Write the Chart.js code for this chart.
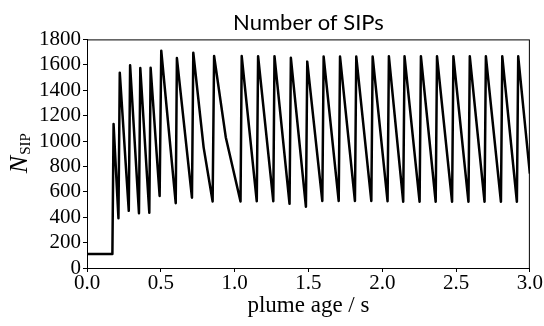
<!DOCTYPE html>
<html>
<head>
<meta charset="utf-8">
<script src="https://cdn.jsdelivr.net/npm/chart.js"></script>
<style>
  html, body { margin: 0; padding: 0; background: #fff; }
  #wrap { width: 544px; height: 326px; }
</style>
</head>
<body>
<div id="wrap"><canvas id="nsip"></canvas></div>
<script>
// plume age in s
var age = [0, 0.172, 0.18, 0.213, 0.222, 0.283, 0.292, 0.352, 0.361, 0.422, 0.431,
  0.492, 0.503, 0.601, 0.609, 0.711, 0.72, 0.79, 0.851, 0.861, 0.94, 1.04, 1.048,
  1.15, 1.159, 1.262, 1.27, 1.372, 1.381, 1.483, 1.492, 1.594, 1.603, 1.705, 1.714,
  1.815, 1.824, 1.926, 1.935, 2.036, 2.045, 2.142, 2.151, 2.253, 2.262, 2.362, 2.371,
  2.473, 2.482, 2.584, 2.593, 2.693, 2.702, 2.804, 2.813, 2.912, 2.921, 3.0];
// number of super-ice-particles
var nsip = [110, 110, 1133, 392, 1538, 450, 1596, 432, 1575, 435, 1577,
  567, 1711, 510, 1653, 554, 1695, 950, 523, 1669, 1030, 523, 1669,
  525, 1668, 525, 1668, 505, 1655, 482, 1625, 527, 1665, 527, 1665,
  527, 1665, 527, 1665, 525, 1667, 521, 1667, 521, 1667, 521, 1667,
  521, 1667, 521, 1667, 521, 1667, 521, 1667, 521, 1667, 744];
var xTicks = [0, 0.5, 1.0, 1.5, 2.0, 2.5, 3.0];
var yTicks = [0, 200, 400, 600, 800, 1000, 1200, 1400, 1600, 1800];

var serif = "'Liberation Serif', serif";

var pts = [];
for (let i = 0; i < age.length; i++) {
  pts.push({x: age[i], y: nsip[i]});
}

// box round the plot + y axis label with subscript
var frame = {
  id: 'frame',
  afterDraw(chart) {
    var a = chart.chartArea;
    var c = chart.ctx;
    c.save();
    c.strokeStyle = '#000';
    c.lineWidth = 1;
    c.strokeRect(a.left + 0.5, a.top + 0.5, a.right - a.left - 1, a.bottom - a.top);
    c.translate(27, (a.top + a.bottom) / 2);
    c.rotate(-Math.PI / 2);
    c.fillStyle = '#000';
    c.textBaseline = 'alphabetic';
    c.font = "italic 26px " + serif;
    var wN = c.measureText('N').width;
    c.font = "15px " + serif;
    var wS = c.measureText('SIP').width;
    var x0 = -(wN + wS) / 2;
    c.font = "italic 26px " + serif;
    c.fillText('N', x0, 0);
    c.font = "15px " + serif;
    c.fillText('SIP', x0 + wN + 1, 3);
    c.restore();
  }
};

new Chart(document.getElementById('nsip'), {
  type: 'scatter',
  data: {
    datasets: [{
      data: pts,
      showLine: true,
      borderColor: '#000',
      borderWidth: 2.5,
      borderJoinStyle: 'round',
      pointRadius: 0,
      tension: 0
    }]
  },
  options: {
    responsive: true,
    maintainAspectRatio: false,
    animation: false,
    layout: { padding: { left: 0, right: 13, top: 0, bottom: 0 } },
    plugins: {
      legend: { display: false },
      tooltip: { enabled: false },
      title: {
        display: true,
        fullSize: false,
        text: 'Number of SIPs',
        color: '#000',
        font: { family: "Lato, 'DejaVu Sans', sans-serif", size: 22, weight: 'normal', lineHeight: 1.2 },
        padding: { top: 10, bottom: 3 }
      }
    },
    scales: {
      x: {
        type: 'linear',
        min: 0,
        max: 3,
        afterBuildTicks: function(s) { s.ticks = xTicks.map(v => ({value: v})); },
        afterFit: function(s) { s.height = 58; },
        grid: { drawOnChartArea: false, color: '#000', tickLength: 4 },
        border: { color: '#000' },
        ticks: {
          color: '#000',
          padding: 1,
          maxRotation: 0,
          font: { family: serif, size: 21, lineHeight: 1 },
          callback: v => v.toFixed(1)
        },
        title: {
          display: true,
          text: 'plume age / s',
          color: '#000',
          font: { family: serif, size: 23, lineHeight: 1.2 },
          padding: { top: 0, bottom: 6 }
        }
      },
      y: {
        min: 0,
        max: 1800,
        afterBuildTicks: function(s) { s.ticks = yTicks.map(v => ({value: v})); },
        afterFit: function(s) { s.width = 87; },
        grid: { drawOnChartArea: false, color: '#000', tickLength: 4 },
        border: { color: '#000' },
        ticks: {
          color: '#000',
          padding: 2,
          font: { family: serif, size: 21, lineHeight: 1 },
          callback: v => String(v)
        }
      }
    }
  },
  plugins: [frame]
});
</script>
</body>
</html>
